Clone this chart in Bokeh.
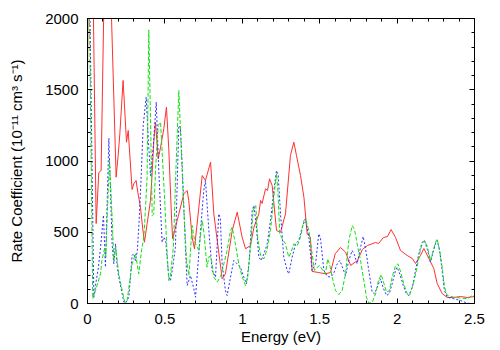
from bokeh.plotting import figure
from bokeh.models import LinearAxis, SingleIntervalTicker, NumeralTickFormatter
from bokeh.embed import file_html
from bokeh.resources import INLINE

# ---- data (x: Energy in eV, y: rate coefficient) ----
red_pts = [
    (0.0, 1558), (0.004, 2100), (0.02, 2600), (0.038, 2050), (0.056, 561), (0.073, 919),
    (0.088, 933), (0.105, 2050), (0.13, 2600), (0.155, 2010), (0.185, 886), (0.198, 1039),
    (0.209, 1191), (0.230, 1565), (0.252, 1132), (0.263, 1214), (0.288, 800), (0.299, 840),
    (0.314, 863), (0.325, 781), (0.342, 676), (0.357, 524), (0.368, 430), (0.385, 559),
    (0.407, 723), (0.418, 921), (0.428, 1132), (0.439, 1272), (0.457, 1015), (0.472, 1097),
    (0.493, 1226), (0.510, 1378), (0.525, 1086), (0.543, 600), (0.550, 454), (0.565, 520),
    (0.590, 629), (0.622, 770), (0.644, 793), (0.654, 723), (0.676, 465), (0.691, 384),
    (0.741, 898), (0.762, 863), (0.795, 992), (0.816, 629),
    (0.870, 173), (0.891, 208), (0.935, 512), (0.967, 641), (0.999, 465), (1.021, 384),
    (1.053, 407), (1.075, 535), (1.107, 629), (1.118, 723), (1.128, 702), (1.150, 805),
    (1.163, 793), (1.176, 875), (1.193, 828), (1.221, 512), (1.247, 500), (1.279, 629),
    (1.311, 1039), (1.333, 1132), (1.350, 1039), (1.376, 898), (1.398, 746), (1.419, 489),
    (1.440, 465), (1.451, 225), (1.490, 218), (1.537, 208), (1.570, 218), (1.600, 349),
    (1.634, 393), (1.667, 360), (1.700, 267), (1.744, 302), (1.776, 379), (1.809, 407),
    (1.860, 428), (1.880, 421), (1.912, 463), (1.938, 470), (1.961, 519), (1.990, 463),
    (2.022, 372), (2.065, 337), (2.098, 316), (2.119, 281), (2.151, 337), (2.173, 386),
    (2.205, 316), (2.237, 246), (2.259, 140), (2.291, 70), (2.324, 42), (2.364, 42),
    (2.410, 49), (2.453, 42), (2.500, 49),
]

blue_pts = [
    (0.0, 2600), (0.015, 2100), (0.041, 44), (0.055, 150), (0.070, 250), (0.085, 400),
    (0.095, 520), (0.103, 620), (0.116, 255), (0.138, 1160), (0.159, 419), (0.170, 278),
    (0.181, 420), (0.192, 255), (0.202, 185), (0.224, 68), (0.235, 9), (0.245, 2),
    (0.267, 44), (0.288, 337), (0.299, 350), (0.310, 300), (0.322, 372), (0.332, 550),
    (0.345, 850), (0.360, 1250), (0.379, 1448), (0.393, 1150), (0.407, 898), (0.425, 1100),
    (0.444, 1413), (0.461, 921), (0.482, 430), (0.493, 465), (0.505, 440), (0.525, 185),
    (0.536, 161), (0.550, 250), (0.568, 395), (0.590, 1249), (0.600, 1237), (0.612, 968),
    (0.633, 384), (0.644, 126), (0.665, 196), (0.687, 103), (0.698, 44), (0.730, 512),
    (0.751, 793), (0.762, 863), (0.784, 512), (0.805, 232), (0.827, 185), (0.848, 629),
    (0.858, 600), (0.870, 278), (0.891, 91), (0.902, 56), (0.924, 185), (0.945, 302),
    (0.967, 278), (0.988, 255), (1.010, 185), (1.027, 138), (1.045, 300), (1.064, 653),
    (1.075, 688), (1.090, 550), (1.107, 325), (1.122, 302), (1.140, 350), (1.161, 419),
    (1.182, 582), (1.204, 793), (1.221, 933), (1.232, 900), (1.247, 629), (1.268, 325),
    (1.290, 232), (1.300, 208), (1.322, 325), (1.344, 419), (1.365, 442), (1.387, 535),
    (1.408, 594), (1.430, 465), (1.451, 232), (1.473, 278), (1.494, 489), (1.505, 460),
    (1.527, 232), (1.550, 190), (1.570, 185), (1.590, 210), (1.613, 278), (1.630, 302),
    (1.645, 260), (1.667, 196), (1.688, 302), (1.710, 372), (1.725, 340), (1.742, 278),
    (1.764, 395), (1.781, 470), (1.800, 360), (1.817, 232), (1.839, 79), (1.854, 68),
    (1.870, 110), (1.893, 173), (1.910, 110), (1.932, 56), (1.950, 70), (1.968, 138),
    (1.990, 232), (2.000, 255), (2.020, 200), (2.043, 115), (2.060, 70), (2.076, 56),
    (2.100, 120), (2.119, 232), (2.140, 349), (2.162, 430), (2.177, 442), (2.195, 380),
    (2.216, 290), (2.230, 350), (2.248, 419), (2.259, 442), (2.275, 370), (2.291, 232),
    (2.306, 91), (2.324, 44), (2.367, 33), (2.410, 21), (2.453, 2), (2.480, 0),
]

green_pts = [
    (0.0, 2600), (0.012, 2100), (0.034, 33), (0.052, 91), (0.068, 150), (0.084, 208),
    (0.093, 302), (0.112, 395), (0.118, 330), (0.127, 606), (0.142, 1003), (0.159, 606),
    (0.170, 302), (0.181, 395), (0.192, 302), (0.202, 208), (0.224, 91), (0.241, 9),
    (0.256, 21), (0.288, 278), (0.310, 349), (0.331, 208), (0.350, 380), (0.364, 465),
    (0.375, 676), (0.385, 886), (0.396, 1920), (0.407, 1300), (0.418, 617), (0.428, 629),
    (0.440, 950), (0.457, 1250), (0.472, 1272), (0.490, 900), (0.500, 700), (0.512, 400),
    (0.525, 161), (0.536, 200), (0.555, 400), (0.570, 900), (0.590, 1495), (0.605, 1100),
    (0.620, 700), (0.640, 300), (0.655, 196), (0.676, 547), (0.687, 470), (0.698, 419),
    (0.719, 372), (0.741, 582), (0.752, 500), (0.772, 255), (0.785, 330), (0.799, 325),
    (0.816, 185), (0.838, 150), (0.860, 190), (0.881, 278), (0.902, 372), (0.924, 512),
    (0.935, 535), (0.955, 420), (0.977, 278), (1.000, 185), (1.021, 126), (1.035, 185),
    (1.053, 395), (1.070, 653), (1.087, 688), (1.100, 450), (1.118, 337), (1.139, 313),
    (1.160, 380), (1.182, 512), (1.195, 650), (1.208, 793), (1.221, 910), (1.230, 790),
    (1.242, 489), (1.260, 450), (1.279, 419), (1.300, 325), (1.315, 360), (1.333, 419),
    (1.355, 405), (1.376, 465), (1.398, 582), (1.408, 594), (1.430, 512), (1.451, 349),
    (1.466, 232), (1.480, 250), (1.500, 267), (1.520, 232), (1.537, 208), (1.552, 313),
    (1.565, 270), (1.581, 185), (1.602, 91), (1.624, 63), (1.645, 91), (1.667, 208),
    (1.688, 442), (1.710, 547), (1.725, 520), (1.742, 419), (1.764, 302), (1.785, 161),
    (1.802, 44), (1.817, 2), (1.840, 10), (1.861, 68), (1.880, 161), (1.897, 204),
    (1.915, 140), (1.932, 79), (1.950, 90), (1.968, 185), (1.990, 267), (2.005, 278),
    (2.020, 232), (2.043, 138), (2.065, 68), (2.080, 56), (2.100, 120), (2.125, 232),
    (2.145, 349), (2.162, 419), (2.177, 442), (2.195, 400), (2.216, 302), (2.230, 360),
    (2.248, 430), (2.259, 454), (2.275, 370), (2.291, 255), (2.306, 115), (2.324, 56),
    (2.367, 44), (2.410, 38), (2.453, 33), (2.485, 56), (2.500, 50),
]

x_label = "Energy (eV)"
y_label = "Rate Coefficient (10\u207b\u00b9\u00b9 cm\u00b3 s\u207b\u00b9)"

FONT = "Liberation Sans"

p = figure(width=492, height=350, x_range=(0, 2.5), y_range=(0, 2000),
           output_backend="svg", toolbar_location=None,
           min_border_left=87, min_border_right=18, min_border_top=18, min_border_bottom=47)
p.xgrid.visible = False
p.ygrid.visible = False
p.outline_line_color = "black"
p.outline_line_width = 1
p.background_fill_color = "white"
p.border_fill_color = "white"

def style(ax, labels=True):
    ax.major_tick_in = 5
    ax.major_tick_out = 0
    ax.minor_tick_in = 3
    ax.minor_tick_out = 0
    ax.axis_line_color = "black"
    ax.major_tick_line_color = "black"
    ax.minor_tick_line_color = "black"
    ax.major_label_text_font = FONT
    ax.axis_label_text_font = FONT
    ax.axis_label_text_font_size = "15px"
    ax.axis_label_text_font_style = "normal"
    ax.axis_label_text_color = "black"
    if labels:
        ax.major_label_text_font_size = "15px"
        ax.major_label_text_color = "black"
    else:
        ax.major_label_text_font_size = "1px"
        ax.major_label_text_color = None
        ax.major_label_standoff = 0

xa = p.xaxis[0]
xa.ticker = SingleIntervalTicker(interval=0.5, num_minor_ticks=5)
xa.formatter = NumeralTickFormatter(format="0.[0]")
xa.axis_label = x_label
style(xa)
xa.major_label_standoff = 10
xa.axis_label_standoff = 1

ya = p.yaxis[0]
ya.ticker = SingleIntervalTicker(interval=500, num_minor_ticks=5)
ya.axis_label = y_label
style(ya)
ya.major_label_standoff = 9
ya.axis_label_standoff = 17

top = LinearAxis(ticker=SingleIntervalTicker(interval=0.5, num_minor_ticks=5))
style(top, labels=False)
p.add_layout(top, "above")

right = LinearAxis(ticker=SingleIntervalTicker(interval=500, num_minor_ticks=5))
style(right, labels=False)
p.add_layout(right, "right")

for pts, color, dash in [(red_pts, "#ff3030", "solid"),
                         (blue_pts, "#3030ff", "2 2"),
                         (green_pts, "#10e010", "4 2")]:
    xs = [a for a, b in pts]
    ys = [b for a, b in pts]
    p.line(xs, ys, line_color=color, line_width=1, line_dash=dash)

open("out.html", "w").write(file_html(p, INLINE))
